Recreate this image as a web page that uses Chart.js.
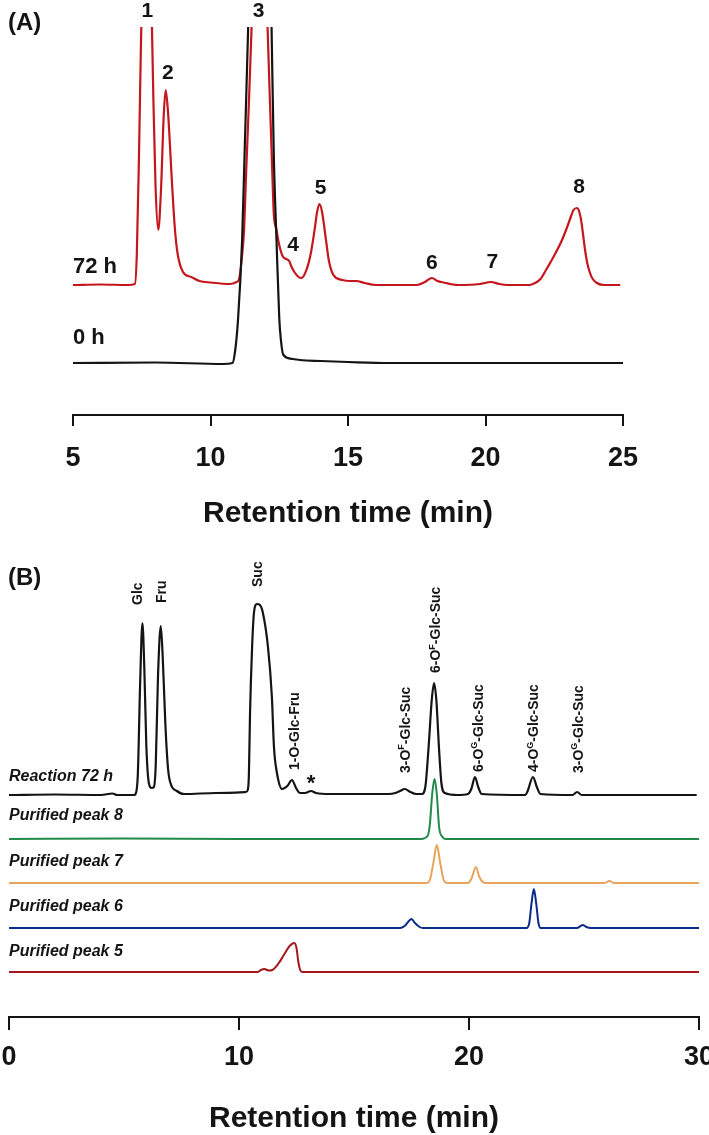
<!DOCTYPE html>
<html>
<head>
<meta charset="utf-8">
<script src="https://cdn.jsdelivr.net/npm/chart.js@4.4.1/dist/chart.umd.min.js"></script>
<style>
  html, body { margin: 0; padding: 0; background: #fff; }
  #wrap { position: relative; width: 709px; height: 1135px; overflow: hidden; }
  canvas { position: absolute; left: 0; }
  #chartA { top: 0; }
  #chartB { top: 560px; }
</style>
</head>
<body>
<div id="wrap">
  <canvas id="chartA" width="709" height="530"></canvas>
  <canvas id="chartB" width="709" height="575"></canvas>
</div>
<script>
// ---- panel A data: [retention time (min), signal above its own baseline] ----
const ticksA = [5, 10, 15, 20, 25];
const traceNamesA = ["72 h", "0 h"];
const peakNumsA = ["1", "2", "3", "4", "5", "6", "7", "8"];
const peakTimesA = [7.7, 8.45, 11.75, 13.0, 14.0, 18.05, 20.25, 23.4];

const trace72h = [
  [5.0, 0], [6.0, 0.5], [7.0, 0], [7.25, 1], [7.32, 30], [7.4, 130], [7.47, 240], [7.53, 320],
  [7.68, 600], [7.84, 300], [7.92, 190], [8.0, 100], [8.1, 55], [8.2, 95], [8.3, 170], [8.37, 195],
  [8.45, 175], [8.6, 102], [8.7, 58], [8.8, 32], [9.0, 13], [9.3, 8], [9.6, 4], [10.0, 2.5],
  [10.7, 1], [10.95, 3], [11.04, 6], [11.15, 30], [11.22, 55], [11.3, 115], [11.4, 185], [11.5, 262],
  [11.8, 520], [12.07, 262], [12.16, 185], [12.25, 110], [12.3, 72], [12.4, 55], [12.5, 40], [12.62, 29],
  [12.75, 26], [12.86, 24], [12.95, 18], [13.05, 13], [13.2, 8], [13.3, 7], [13.5, 16], [13.65, 32],
  [13.8, 58], [13.87, 72], [13.96, 81], [14.05, 74], [14.2, 45], [14.3, 25], [14.47, 10], [14.8, 5],
  [15.07, 4], [15.3, 4], [15.6, 2], [16.0, 0], [17.5, 0], [17.8, 3], [18.05, 7], [18.25, 4],
  [18.4, 3], [19.0, 0], [19.8, 1], [20.2, 3], [20.5, 1], [20.8, 0], [21.6, 0], [21.8, 2],
  [22.0, 6], [22.2, 15], [22.47, 28], [22.75, 43], [22.97, 58], [23.1, 68], [23.2, 75], [23.33, 77],
  [23.4, 74], [23.47, 66], [23.55, 50], [23.62, 35], [23.7, 22], [23.8, 12], [23.9, 6], [24.05, 2],
  [24.3, 0], [24.9, 0]
];

const trace0h = [
  [5.0, 0], [8.0, 0.5], [10.45, -1], [10.8, 0], [10.9, 13], [11.0, 43], [11.15, 123], [11.25, 220],
  [11.37, 336], [11.5, 520], [11.8, 800], [12.1, 520], [12.22, 336], [12.3, 210], [12.4, 123], [12.5, 45],
  [12.56, 23], [12.65, 8], [13.0, 4], [13.25, 3], [14.0, 2], [15.0, 1], [16.5, 0], [25.0, 0]
];

// ---- panel B data ----
const ticksB = [0, 10, 20, 30];
const traceNamesB = ["Reaction 72 h", "Purified peak 8", "Purified peak 7", "Purified peak 6", "Purified peak 5"];

const reaction72 = [
  [0, 0], [2.0, 0.5], [4.0, 0], [4.5, 1.5], [4.7, 0], [5.45, 0], [5.5, 1], [5.6, 20], [5.7, 110],
  [5.8, 172], [5.88, 130], [5.97, 50], [6.08, 12], [6.2, 7], [6.3, 8], [6.38, 30], [6.48, 120],
  [6.6, 169], [6.68, 140], [6.8, 70], [6.92, 25], [7.05, 10], [7.3, 4], [7.6, 1], [9.0, 2],
  [10.3, 3], [10.38, 5], [10.43, 20], [10.48, 82], [10.57, 148], [10.65, 182], [10.78, 191], [10.91, 190],
  [11.04, 182], [11.26, 148], [11.43, 98], [11.52, 48], [11.65, 22], [11.87, 6], [12.1, 9], [12.3, 15],
  [12.48, 7], [12.65, 2], [12.87, 2], [13.13, 4], [13.35, 2], [13.95, 1], [16.5, 1], [16.8, 2],
  [17.0, 4], [17.2, 6], [17.45, 3], [17.7, 1], [17.95, 1], [18.1, 8], [18.25, 50], [18.38, 95],
  [18.48, 112], [18.58, 95], [18.7, 45], [18.8, 12], [18.95, 2], [19.5, 0], [19.95, 1], [20.1, 6],
  [20.26, 18], [20.4, 8], [20.55, 1], [22.45, 0], [22.55, 4], [22.78, 18], [22.95, 8], [23.1, 1],
  [24.5, 0], [24.7, 3], [24.9, 0], [29.9, 0]
];
const purified8 = [
  [0, 0], [5, 0.5], [10, 0], [17.9, 0], [18.2, 3], [18.3, 15], [18.4, 45], [18.5, 60],
  [18.6, 45], [18.7, 12], [18.85, 2], [19.0, 0], [30, 0]
];
const purified7 = [
  [0, 0], [18.15, 0], [18.3, 3], [18.45, 20], [18.6, 38], [18.75, 20], [18.9, 3], [19.05, 0],
  [19.95, 0], [20.1, 4], [20.3, 16], [20.45, 6], [20.6, 1], [20.75, 0], [25.9, 0], [26.1, 2],
  [26.3, 0], [30, 0]
];
const purified6 = [
  [0, 0], [17.0, 0], [17.2, 2], [17.35, 6], [17.5, 9], [17.65, 5], [17.85, 1], [18.0, 0],
  [22.5, 0], [22.62, 5], [22.72, 25], [22.82, 39], [22.92, 25], [23.02, 5], [23.12, 0], [24.7, 0],
  [24.85, 2], [24.95, 3], [25.1, 1], [25.3, 0], [30, 0]
];
const purified5 = [
  [0, 0], [10.8, 0], [10.95, 2], [11.1, 3], [11.3, 1.5], [11.45, 2], [11.7, 8], [11.95, 17],
  [12.2, 26], [12.4, 29], [12.5, 24], [12.58, 10], [12.66, 2], [12.75, 0], [30, 0]
];

// compound names split as [text, superscript, text]
const compoundNames = [
  ["Glc", "", ""], ["Fru", "", ""], ["Suc", "", ""], ["1-O-Glc-Fru", "", ""],
  ["3-O", "F", "-Glc-Suc"], ["6-O", "F", "-Glc-Suc"], ["6-O", "G", "-Glc-Suc"],
  ["4-O", "G", "-Glc-Suc"], ["3-O", "G", "-Glc-Suc"]
];
const compoundTimes = [5.6, 6.65, 10.83, 12.43, 17.26, 18.57, 20.43, 22.83, 24.78];
const starTime = 13.13;

// ---- styling / placement ----
const FONT = "'Liberation Sans', Arial, Helvetica, sans-serif";
const INK = "#141414";
const B_TOP = 560;
const RED_A = "#c4161c";
const baseA = [130, 52];
const baseB = [222, 178, 134, 89, 45];
const colorsB = ["#141414", "#218a48", "#e9a45c", "#0d2b8a", "#a3181f"];
const peakLabelYA = [11, 73, 11, 245, 188, 263, 262, 187];
const compoundBottomY = [605, 603, 587, 770, 773, 673, 772, 772, 773];
const traceLabelYB = [777, 816, 862, 907, 952];

function line(pts, offset, color, width) {
  return {
    data: pts.map(p => ({ x: p[0], y: p[1] + offset })),
    borderColor: color,
    borderWidth: width,
    pointRadius: 0,
    fill: false,
    cubicInterpolationMode: "monotone",
  };
}

function xAxis(min, max, ticks, tickLen, pad, height) {
  return {
    type: "linear", min: min, max: max,
    afterBuildTicks: s => { s.ticks = ticks.map(v => ({ value: v })); },
    ticks: { font: { family: FONT, size: 27, weight: "bold" }, color: INK, padding: pad, maxRotation: 0, autoSkip: false },
    grid: { display: true, drawOnChartArea: false, drawTicks: true, tickLength: tickLen, tickWidth: 2, tickColor: INK, lineWidth: 2, color: INK },
    border: { display: true, color: INK, width: 2 },
    title: { display: true, text: "Retention time (min)", font: { family: FONT, size: 30, weight: "bold", lineHeight: 1.1 }, color: INK, padding: 0 },
    afterFit: s => { s.height = height; s.paddingLeft = 0; s.paddingRight = 0; },
  };
}

const labelsA = {
  id: "labelsA",
  afterDraw(chart) {
    const ctx = chart.ctx, xs = chart.scales.x;
    ctx.save();
    ctx.fillStyle = INK;
    ctx.textBaseline = "middle";
    ctx.textAlign = "center";
    ctx.font = "bold 21px " + FONT;
    peakNumsA.forEach((s, i) => ctx.fillText(s, xs.getPixelForValue(peakTimesA[i]), peakLabelYA[i]));
    ctx.textAlign = "left";
    ctx.font = "bold 22px " + FONT;
    ctx.fillText(traceNamesA[0], 73, 267);
    ctx.fillText(traceNamesA[1], 73, 338);
    ctx.font = "bold 24px " + FONT;
    ctx.fillText("(A)", 8, 23);
    ctx.restore();
  }
};

const labelsB = {
  id: "labelsB",
  afterDraw(chart) {
    const ctx = chart.ctx, xs = chart.scales.x;
    const main = "bold 14px " + FONT, sup = "bold 9px " + FONT;
    ctx.save();
    ctx.fillStyle = INK;
    compoundNames.forEach((parts, i) => {
      ctx.save();
      ctx.translate(xs.getPixelForValue(compoundTimes[i]), compoundBottomY[i] - B_TOP);
      ctx.rotate(-Math.PI / 2);
      ctx.textAlign = "left";
      ctx.textBaseline = "middle";
      let cx = 0;
      ctx.font = main;
      ctx.fillText(parts[0], cx, 0);
      cx += ctx.measureText(parts[0]).width;
      if (parts[1]) {
        ctx.font = sup;
        ctx.fillText(parts[1], cx, -4);
        cx += ctx.measureText(parts[1]).width;
        ctx.font = main;
        ctx.fillText(parts[2], cx, 0);
      }
      ctx.restore();
    });
    ctx.textAlign = "center";
    ctx.textBaseline = "middle";
    ctx.font = "bold 22px " + FONT;
    ctx.fillText("*", xs.getPixelForValue(starTime), 784 - B_TOP);
    ctx.textAlign = "left";
    ctx.font = "italic bold 16px " + FONT;
    traceNamesB.forEach((s, i) => ctx.fillText(s, 9, traceLabelYB[i] - B_TOP));
    ctx.font = "bold 24px " + FONT;
    ctx.fillText("(B)", 8, 578 - B_TOP);
    ctx.restore();
  }
};

const common = {
  responsive: false,
  animation: false,
  devicePixelRatio: 1,
  events: [],
  plugins: { legend: { display: false }, tooltip: { enabled: false } },
};

new Chart(document.getElementById("chartA"), {
  type: "line",
  data: { datasets: [line(trace0h, baseA[1], INK, 2.2), line(trace72h, baseA[0], RED_A, 2.2)] },
  options: Object.assign({}, common, {
    layout: { padding: { left: 73, right: 86, top: 27, bottom: 0 } },
    scales: { x: xAxis(5, 25, ticksA, 11, 16, 115), y: { display: false, min: 0, max: 388 } },
  }),
  plugins: [labelsA],
});

const tracesB = [reaction72, purified8, purified7, purified6, purified5];
new Chart(document.getElementById("chartB"), {
  type: "line",
  data: { datasets: tracesB.map((t, i) => line(t, baseB[i], colorsB[i], i === 0 ? 2.2 : 2)) },
  options: Object.assign({}, common, {
    layout: { padding: { left: 9, right: 10, top: 30, bottom: 0 } },
    scales: { x: xAxis(0, 30, ticksB, 13, 11, 118), y: { display: false, min: 0, max: 427 } },
  }),
  plugins: [labelsB],
});
</script>
</body>
</html>
